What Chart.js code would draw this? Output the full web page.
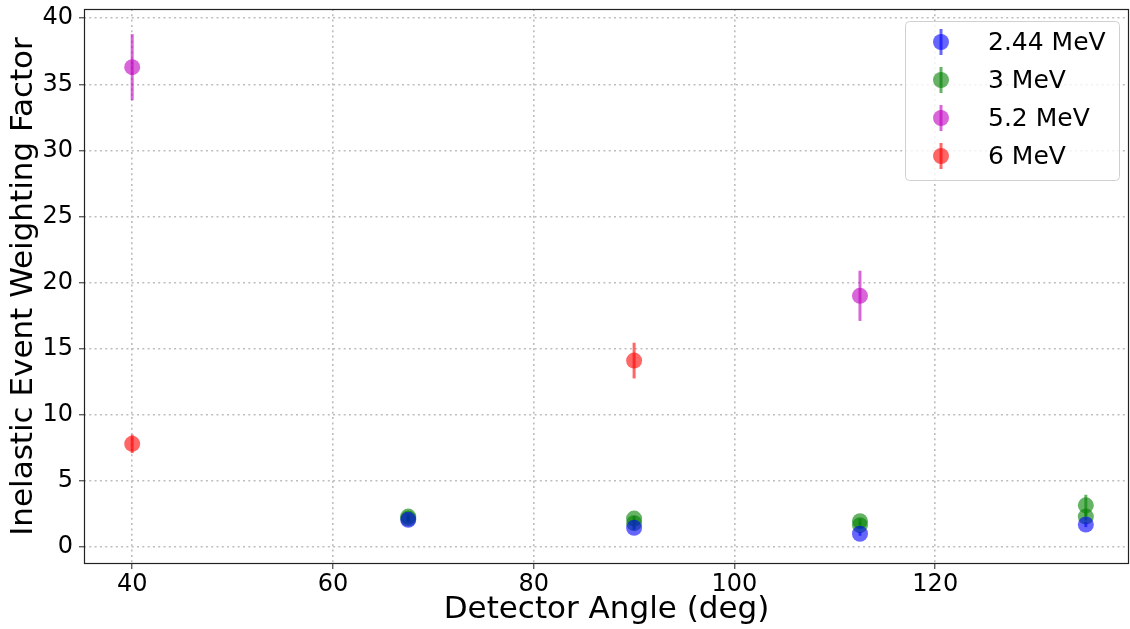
<!DOCTYPE html>
<html>
<head>
<meta charset="utf-8">
<script src="https://cdn.jsdelivr.net/npm/chart.js@4.4.0/dist/chart.umd.min.js"></script>
<style>
  html, body { margin: 0; padding: 0; background: #fff; }
  #wrap { width: 1130px; height: 629px; }
</style>
</head>
<body>
<div id="wrap"><canvas id="chart" width="1130" height="629"></canvas></div>
<script>
const seriesLabels = ['2.44 MeV', '3 MeV', '5.2 MeV', '6 MeV'];
const seriesColors = ['rgba(0,0,255,0.6)', 'rgba(0,128,0,0.6)', 'rgba(191,0,191,0.6)', 'rgba(255,0,0,0.6)'];

const angles244 = [67.5, 90, 112.5, 135];
const values244 = [2.05, 1.45, 1.0, 1.7];
const errors244 = [0.15, 0.15, 0.15, 0.2];

const angles3 = [67.5, 67.5, 90, 90, 112.5, 112.5, 135, 135];
const values3 = [2.3, 2.15, 2.15, 1.8, 1.95, 1.65, 3.15, 2.3];
const errors3 = [0.2, 0.2, 0.2, 0.2, 0.2, 0.2, 0.8, 0.3];

const angles52 = [40, 112.5];
const values52 = [36.3, 19.0];
const errors52 = [2.5, 1.9];

const angles6 = [40, 90];
const values6 = [7.8, 14.1];
const errors6 = [0.7, 1.35];

const xTicks = [40, 60, 80, 100, 120];
const yTicks = [0, 5, 10, 15, 20, 25, 30, 35, 40];

const toPoints = (xs, ys, es) => xs.map((x, i) => ({ x, y: ys[i], err: es[i] }));
const allSeries = [
  toPoints(angles244, values244, errors244),
  toPoints(angles3, values3, errors3),
  toPoints(angles52, values52, errors52),
  toPoints(angles6, values6, errors6),
];

const FONT = "'DejaVu Sans', sans-serif";

// vertical error bars, drawn under the markers
const errorBars = {
  id: 'errorBars',
  beforeDatasetsDraw(chart) {
    const { ctx, scales: { x, y } } = chart;
    chart.data.datasets.forEach(ds => {
      ctx.save();
      ctx.strokeStyle = ds.backgroundColor;
      ctx.lineWidth = 3;
      ds.data.forEach(p => {
        const px = x.getPixelForValue(p.x);
        ctx.beginPath();
        ctx.moveTo(px, y.getPixelForValue(p.y - p.err));
        ctx.lineTo(px, y.getPixelForValue(p.y + p.err));
        ctx.stroke();
      });
      ctx.restore();
    });
  }
};

const frame = {
  id: 'frame',
  afterDatasetsDraw(chart) {
    const { ctx, chartArea: a } = chart;
    ctx.save();
    ctx.strokeStyle = '#222';
    ctx.lineWidth = 1.2;
    ctx.strokeRect(a.left + 0.5, a.top + 0.5, a.right - a.left - 1, a.bottom - a.top - 1);
    ctx.restore();
  }
};

const legendBox = {
  id: 'legendBox',
  afterDraw(chart) {
    const { ctx } = chart;
    const bx = 905, by = 21, bw = 214, bh = 159;
    ctx.save();
    ctx.fillStyle = 'rgba(255,255,255,0.8)';
    ctx.strokeStyle = '#d0d0d0';
    ctx.lineWidth = 1;
    ctx.beginPath();
    ctx.roundRect(bx + 0.5, by + 0.5, bw, bh, 4);
    ctx.fill();
    ctx.stroke();
    ctx.font = '25px ' + FONT;
    ctx.textBaseline = 'middle';
    seriesLabels.forEach((lab, i) => {
      const cy = 42 + i * 38;
      const cx = 941;
      ctx.strokeStyle = seriesColors[i];
      ctx.lineWidth = 3;
      ctx.beginPath();
      ctx.moveTo(cx, cy - 13);
      ctx.lineTo(cx, cy + 13);
      ctx.stroke();
      ctx.fillStyle = seriesColors[i];
      ctx.beginPath();
      ctx.arc(cx, cy, 8, 0, Math.PI * 2);
      ctx.fill();
      ctx.fillStyle = '#000';
      ctx.fillText(lab, 988, cy + 1);
    });
    ctx.restore();
  }
};

const gridOpts = {
  color: '#bdbdbd',
  lineWidth: 1.6,
  tickLength: 5,
  tickColor: '#222',
  tickWidth: 1,
  tickBorderDash: [],
};

new Chart(document.getElementById('chart'), {
  type: 'scatter',
  data: {
    datasets: allSeries.map((pts, i) => ({
      label: seriesLabels[i],
      data: pts,
      backgroundColor: seriesColors[i],
      borderWidth: 0,
      pointRadius: 8,
      pointHoverRadius: 8,
    })),
  },
  options: {
    responsive: false,
    animation: false,
    layout: { autoPadding: false, padding: { top: 9, right: 1, left: 0, bottom: 0 } },
    plugins: { legend: { display: false }, tooltip: { enabled: false } },
    scales: {
      x: {
        type: 'linear',
        min: 35.2,
        max: 139.3,
        afterBuildTicks: s => { s.ticks = xTicks.map(v => ({ value: v })); },
        afterFit: s => { s.height = 65; s.paddingLeft = 0; s.paddingRight = 0; },
        border: { display: false, dash: [2, 3.3] },
        grid: gridOpts,
        ticks: { color: '#000', font: { family: FONT, size: 24 }, padding: 1, maxRotation: 0 },
        title: { display: true, text: 'Detector Angle (deg)', color: '#000', font: { family: FONT, size: 31 }, padding: { top: 0, bottom: 0 } },
      },
      y: {
        type: 'linear',
        min: -1.29,
        max: 40.7,
        afterBuildTicks: s => { s.ticks = yTicks.map(v => ({ value: v })); },
        afterFit: s => { s.width = 84; s.paddingTop = 0; s.paddingBottom = 0; },
        border: { display: false, dash: [2, 3.3] },
        grid: gridOpts,
        ticks: { color: '#000', font: { family: FONT, size: 24 }, padding: 6 },
        title: { display: true, text: 'Inelastic Event Weighting Factor', color: '#000', font: { family: FONT, size: 31 }, padding: { top: 5, bottom: 0 } },
      },
    },
  },
  plugins: [errorBars, frame, legendBox],
});
</script>
</body>
</html>
